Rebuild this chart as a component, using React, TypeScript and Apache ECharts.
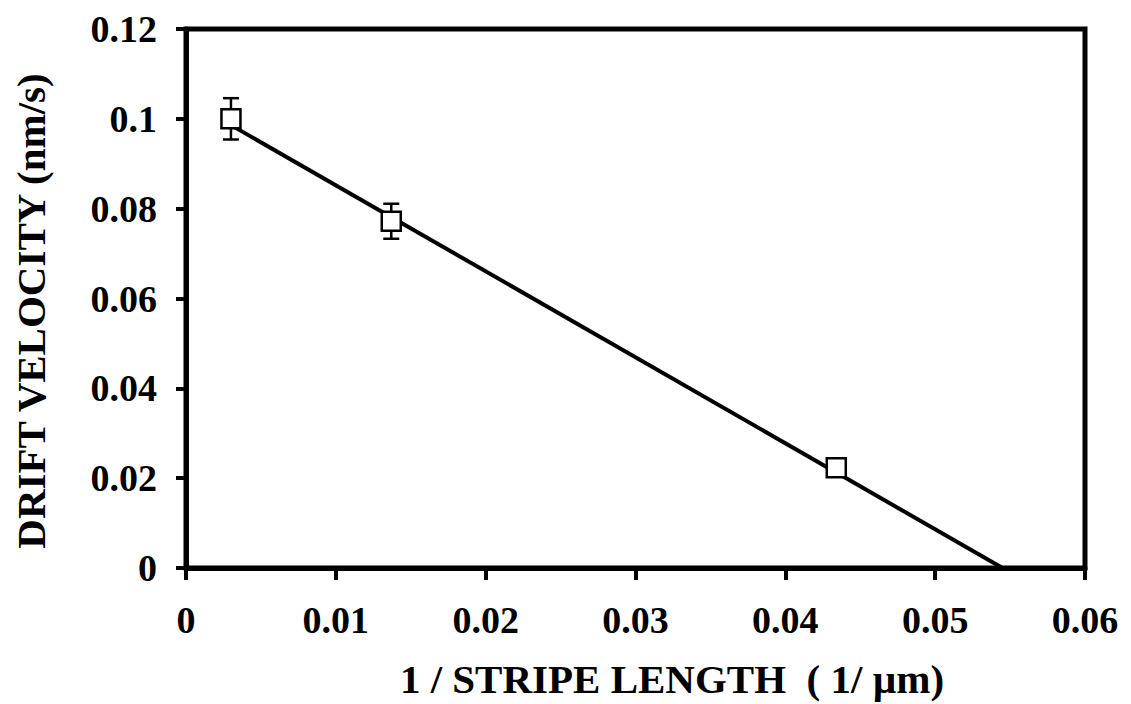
import React, { useEffect, useRef } from "react";
import * as echarts from "echarts";

const xValues = [0.003, 0.0137, 0.0434];
const yValues = [0.1, 0.0772, 0.0223];
const yErrors = [0.0046, 0.0039, 0];
const fitLine = [
  [0.003, 0.0986],
  [0.0545, 0],
];
const xTitle = "1 / STRIPE LENGTH  ( 1/ \u00b5m)";
const yTitle = "DRIFT VELOCITY (nm/s)";

const FONT = "'Liberation Serif', 'Times New Roman', serif";

export default function App() {
  const ref = useRef<HTMLDivElement>(null);
  useEffect(() => {
    if (!ref.current) return;
    const chart = echarts.init(ref.current, null, { renderer: "svg" });
    const points = xValues.map((x, i) => [x, yValues[i]]);
    const errs = xValues.map((x, i) => [x, yValues[i] - yErrors[i], yValues[i] + yErrors[i]]);
    const labelStyle = {
      color: "#000",
      fontFamily: FONT,
      fontWeight: "bold" as const,
      fontSize: 38,
    };
    chart.setOption({
      animation: false,
      backgroundColor: "#fff",
      grid: {
        left: 186,
        top: 29,
        right: 46,
        bottom: 136,
        show: true,
        borderColor: "#000",
        borderWidth: 5,
        containLabel: false,
        outerBoundsMode: "none",
      },
      graphic: [
        {
          type: "text",
          x: 672,
          y: 679,
          style: {
            text: xTitle,
            fill: "#000",
            font: `bold 41px ${FONT}`,
            align: "center",
            verticalAlign: "middle",
          },
        },
        {
          type: "text",
          x: 31,
          y: 311,
          rotation: Math.PI / 2,
          style: {
            text: yTitle,
            fill: "#000",
            font: `bold 41px ${FONT}`,
            align: "center",
            verticalAlign: "middle",
          },
        },
      ],
      xAxis: {
        type: "value",
        min: 0,
        max: 0.06,
        interval: 0.01,
        axisLine: { show: true, lineStyle: { color: "#000", width: 5 } },
        axisTick: { show: true, inside: false, length: 12, lineStyle: { color: "#000", width: 4 } },
        axisLabel: { ...labelStyle, margin: 33 },
        splitLine: { show: false },
      },
      yAxis: {
        type: "value",
        min: 0,
        max: 0.12,
        interval: 0.02,
        axisLine: { show: true, lineStyle: { color: "#000", width: 5 } },
        axisTick: { show: true, inside: false, length: 10, lineStyle: { color: "#000", width: 4 } },
        axisLabel: { ...labelStyle, margin: 29 },
        splitLine: { show: false },
      },
      series: [
        {
          type: "line",
          data: fitLine,
          symbol: "none",
          lineStyle: { color: "#000", width: 4 },
          z: 2,
        },
        {
          type: "custom",
          data: errs,
          z: 3,
          renderItem: (params: any, api: any) => {
            const x = api.value(0);
            const lo = api.coord([x, api.value(1)]);
            const hi = api.coord([x, api.value(2)]);
            if (Math.abs(hi[1] - lo[1]) < 1) return { type: "group", children: [] };
            const cap = 8;
            const st = { stroke: "#000", lineWidth: 2.5 };
            return {
              type: "group",
              children: [
                { type: "line", shape: { x1: lo[0], y1: lo[1], x2: hi[0], y2: hi[1] }, style: st },
                { type: "line", shape: { x1: lo[0] - cap, y1: lo[1], x2: lo[0] + cap, y2: lo[1] }, style: st },
                { type: "line", shape: { x1: hi[0] - cap, y1: hi[1], x2: hi[0] + cap, y2: hi[1] }, style: st },
              ],
            };
          },
        },
        {
          type: "scatter",
          data: points,
          symbol: "rect",
          symbolSize: 19,
          itemStyle: { color: "#fff", borderColor: "#000", borderWidth: 2.5, opacity: 1 },
          z: 4,
        },
      ],
    });
    return () => chart.dispose();
  }, []);
  return (
    <div
      ref={ref}
      style={{ position: "fixed", left: 0, top: 0, width: 1131, height: 704, background: "#fff" }}
    />
  );
}
